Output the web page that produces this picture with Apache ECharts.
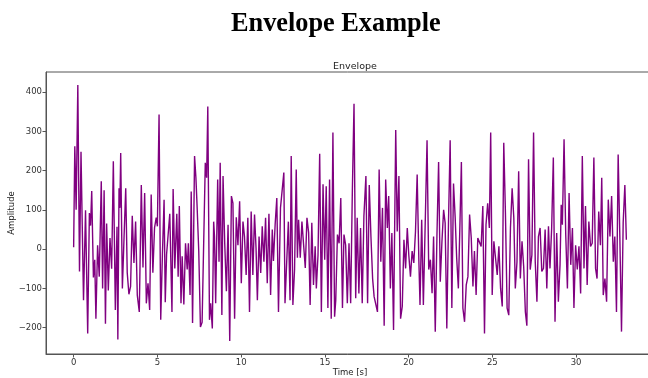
<!DOCTYPE html>
<html>
<head>
<meta charset="utf-8">
<script src="https://cdn.jsdelivr.net/npm/echarts@6/dist/echarts.min.js"></script>
<style>
html,body{margin:0;padding:0;background:#fff;}
#chart{width:648px;height:378px;}
</style>
</head>
<body>
<div id="chart"></div>
<script>
const pageTitle = "Envelope Example";
const plotTitle = "Envelope";
const xName = "Time [s]";
const yName = "Amplitude";
const xTicks = [0, 5, 10, 15, 20, 25, 30];
const yTicks = [-200, -100, 0, 100, 200, 300, 400];

const times = [
0,0.07,0.15,0.25,0.35,0.44,0.59,0.71,0.84,0.94,1.01,1.08,1.18,1.26,1.33,1.43,1.53,1.65,1.73,1.82,1.90,1.97,
2.07,2.17,2.27,2.37,2.49,2.59,2.64,2.71,2.76,2.81,2.91,3.01,3.11,3.20,3.30,3.40,3.50,3.60,3.70,3.80,3.92,
4.04,4.14,4.24,4.34,4.44,4.54,4.63,4.73,4.83,4.93,5.00,5.10,5.20,5.30,5.40,5.47,5.55,5.64,5.74,5.87,5.94,
6.04,6.16,6.24,6.31,6.41,6.48,6.58,6.68,6.78,6.85,6.95,7.02,7.10,7.22,7.30,7.37,7.47,7.57,7.67,7.76,7.86,7.94,
8.01,8.11,8.18,8.28,8.36,8.41,8.48,8.60,8.68,8.75,8.85,8.92,9.02,9.12,9.22,9.32,9.42,9.51,9.61,9.71,9.81,9.91,
10.01,10.11,10.20,10.30,10.40,10.50,10.60,10.70,10.80,10.89,10.97,11.07,11.17,11.26,11.36,11.46,11.56,11.66,11.76,11.86,11.93,
12.03,12.13,12.23,12.35,12.45,12.55,12.62,12.72,12.82,12.92,12.99,13.09,13.19,13.29,13.36,13.43,13.53,13.63,13.73,13.83,13.93,
14.03,14.12,14.22,14.32,14.42,14.49,14.59,14.69,14.79,14.89,14.99,15.08,15.18,15.28,15.38,15.48,15.58,15.65,15.75,15.85,15.95,
16.05,16.14,16.24,16.34,16.44,16.54,16.64,16.74,16.84,16.93,17.03,17.13,17.23,17.33,17.45,17.55,17.65,17.75,17.85,17.94,
18.04,18.14,18.24,18.34,18.44,18.54,18.63,18.73,18.81,18.91,19.00,19.10,19.23,19.32,19.42,19.52,19.62,19.72,19.82,19.92,
20.01,20.11,20.21,20.31,20.41,20.51,20.61,20.68,20.78,20.88,21.00,21.10,21.20,21.30,21.40,21.49,21.59,21.69,21.79,21.89,21.99,
22.09,22.18,22.28,22.38,22.48,22.58,22.68,22.78,22.87,22.97,23.07,23.15,23.24,23.34,23.44,23.54,23.64,23.74,23.84,23.93,
24.03,24.13,24.23,24.33,24.43,24.53,24.62,24.72,24.82,24.90,24.99,25.09,25.19,25.29,25.39,25.49,25.59,25.68,25.78,25.88,25.98,
26.08,26.18,26.28,26.37,26.47,26.57,26.67,26.77,26.87,26.97,27.06,27.16,27.26,27.36,27.46,27.56,27.66,27.75,27.85,27.95,
28.05,28.15,28.25,28.35,28.44,28.54,28.64,28.74,28.84,28.94,29.04,29.11,29.18,29.28,29.38,29.48,29.58,29.68,29.78,29.87,29.97,
30.07,30.17,30.27,30.37,30.47,30.56,30.66,30.76,30.86,30.96,31.06,31.16,31.25,31.35,31.45,31.53,31.62,31.72,31.82,31.92,
32.02,32.12,32.22,32.31,32.41,32.51,32.61,32.71,32.81,32.91,33.00
];

const amplitude = [
5,262,100,418,-57,248,-130,99,-215,92,60,148,-72,-27,-177,10,-70,173,-100,150,-190,65,
-105,28,-50,224,-155,57,-230,155,105,245,-100,30,155,-60,-115,-95,85,-35,70,-117,-160,
163,-47,143,-138,-87,-155,139,-60,54,80,58,343,-180,-15,126,-135,-13,-15,90,-160,153,
-49,90,-70,110,-138,-18,-141,15,-52,15,-117,147,-188,237,182,110,-5,-198,-186,-185,220,182,
363,-180,-138,-202,70,32,-138,177,-32,220,-168,186,15,-107,62,-234,135,117,-177,81,10,122,
-87,70,32,-66,80,-160,96,-66,88,3,-130,32,-61,58,-32,80,-87,90,-117,50,-30,
62,130,-160,105,105,195,-138,-134,70,-130,237,-142,-52,203,-22,75,-22,70,67,-48,80,
42,-142,67,-91,7,-100,-15,243,-160,165,-27,160,-150,177,-177,297,-172,-130,37,15,130,
-150,37,10,-138,15,-138,148,370,-125,80,-113,54,-138,84,186,-138,163,32,-75,-121,
-125,-160,203,-32,105,-195,177,54,135,-100,41,-206,303,45,186,-177,-146,24,-49,54,
-15,-70,-5,-35,45,190,-27,-142,75,-142,84,277,-52,-27,-112,32,-210,32,222,-83,20,
100,67,-202,67,277,-150,167,80,-23,-100,75,222,-150,-185,-91,-70,88,28,-95,-5,
-117,28,32,7,110,-215,62,117,54,297,-117,20,20,-66,7,-100,-146,271,92,-150,-168,
54,155,80,-100,-32,198,-75,20,-45,-160,-195,229,-52,-15,297,-32,-134,32,54,-57,
-49,50,-100,58,-49,54,233,-185,41,-134,-40,113,62,280,37,-100,143,-40,54,-150,10,
-52,7,-113,237,-49,110,-91,70,7,15,233,-49,-75,96,10,182,-117,-75,-134,126,
32,135,-32,32,-160,241,32,-210,67,163,24
];

const seriesData = times.map((t, i) => [t, amplitude[i]]);
const minusFmt = v => String(v).replace('-', '\u2212');
const font = 'DejaVu Sans';

const chart = echarts.init(document.getElementById('chart'), null, {renderer: 'canvas'});
chart.setOption({
  animation: false,
  backgroundColor: '#fff',
  title: [
    {text: pageTitle, left: 226, top: 6,
     textStyle: {fontFamily: 'Liberation Serif', fontWeight: 'bold', fontSize: 26.3, color: '#000'}},
    {text: plotTitle, left: 350, top: 57, textAlign: 'center',
     textStyle: {fontFamily: font, fontWeight: 'normal', fontSize: 9.5, color: '#222'}}
  ],
  grid: {left: 46, right: -6, top: 72, bottom: 24, containLabel: false, outerBoundsMode: 'none',
         show: true, borderColor: '#555', borderWidth: 1, backgroundColor: 'transparent'},
  xAxis: {
    type: 'value', min: -1.65, max: 34.65,
    name: xName, nameLocation: 'middle', nameGap: 14, nameMoveOverlap: false,
    nameTextStyle: {fontFamily: font, fontSize: 8.5, color: '#222'},
    axisLine: {show: true, onZero: false, lineStyle: {color: '#555', width: 1}},
    axisTick: {show: true, customValues: xTicks, length: 3.5, lineStyle: {color: '#555'}},
    axisLabel: {customValues: xTicks, fontFamily: font, fontSize: 8.5, color: '#333', margin: 4, formatter: minusFmt},
    splitLine: {show: false}
  },
  yAxis: {
    type: 'value', min: -267, max: 451,
    name: yName, nameLocation: 'middle', nameGap: 30, nameMoveOverlap: false,
    nameTextStyle: {fontFamily: font, fontSize: 8.5, color: '#222'},
    axisLine: {show: true, onZero: false, lineStyle: {color: '#555', width: 1}},
    axisTick: {show: true, customValues: yTicks, length: 3.5, lineStyle: {color: '#555'}},
    axisLabel: {customValues: yTicks, fontFamily: font, fontSize: 8.5, color: '#333', margin: 4, formatter: minusFmt},
    splitLine: {show: false}
  },
  series: [{
    type: 'line', data: seriesData, showSymbol: false, symbol: 'none',
    lineStyle: {color: '#800080', width: 1.4}, itemStyle: {color: '#800080'},
    sampling: null, clip: true
  }]
});
</script>
</body>
</html>
